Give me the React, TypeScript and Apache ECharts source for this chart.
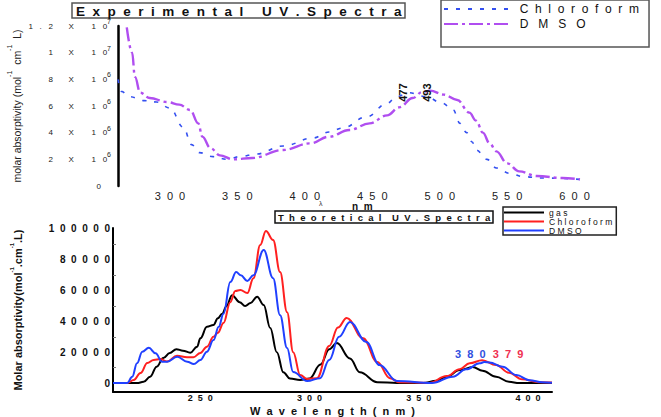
import React, { useEffect, useRef } from "react";
import * as echarts from "echarts";

// ---------- Experimental UV spectra (top) ----------
// wavelengths (nm) and molar absorptivity (x 10^6)
const expChloroformWl = [261.5, 264, 270, 281, 290, 300, 310, 316, 322, 332, 342, 352, 364, 384, 406, 418, 428, 446, 461, 468, 477, 490, 502, 510, 515, 520, 524, 527, 535, 542, 552, 562, 576, 604];
const expChloroformAbs = [8.0, 7.1, 6.7, 6.4, 6.3, 5.85, 4.4, 3.1, 2.5, 2.2, 2.0, 2.2, 2.4, 3.0, 3.6, 4.05, 4.35, 5.2, 6.2, 6.7, 7.0, 6.7, 6.2, 5.7, 4.7, 4.0, 3.3, 2.7, 2.0, 1.35, 0.95, 0.7, 0.6, 0.5];
const expDmsoWl = [268, 272, 274, 278, 285, 298, 307, 315, 321, 324, 330, 337, 347, 361, 384, 404, 418, 433, 448, 461, 470, 480, 487, 493, 503, 513, 522, 527, 532, 537, 542, 550, 559, 572, 591, 604];
const expDmsoAbs = [11.9, 10.0, 8.2, 7.0, 6.6, 6.3, 6.1, 5.7, 4.7, 3.7, 2.85, 2.3, 2.0, 2.1, 2.7, 3.2, 3.7, 4.2, 4.7, 5.3, 5.9, 6.6, 7.05, 7.15, 6.85, 6.45, 5.5, 4.9, 4.0, 3.2, 2.6, 1.7, 1.1, 0.75, 0.6, 0.5];
const expXTicks = [300, 350, 400, 450, 500, 550, 600];
const expPeakChloroform = 477;
const expPeakDmso = 493;

// ---------- Theoretical UV spectra (bottom) ----------
const gasWl = [210, 221, 224, 227, 230, 233, 236, 239, 242, 245.4, 248.5, 250, 253, 256, 258, 260, 262, 264.5, 268, 270.5, 273, 276, 279, 282, 285, 288, 291, 295.7, 300, 305, 309, 312.5, 318.5, 323, 331, 340, 352, 358, 362.8, 368.7, 374.7, 379.2, 385.4, 391.3, 396, 411];
const gasAbs = [0, 0, 800, 4100, 10600, 16200, 19500, 22000, 21000, 19700, 23600, 29000, 36500, 37600, 42000, 45000, 50000, 57000, 52500, 50000, 52000, 56000, 50600, 35700, 20000, 7000, 3000, 2000, 3000, 12000, 22000, 26000, 16000, 7000, 600, 0, 0, 1500, 4100, 8400, 10400, 8000, 4100, 850, 0, 0];
const chlWl = [210, 216.5, 219.5, 222.6, 225.7, 228.6, 231.7, 234.7, 239.3, 243.9, 246.8, 250, 253, 256, 258, 260.6, 263.7, 266, 268.3, 271.5, 274.3, 277.4, 280, 283.3, 286.5, 289.7, 292.5, 295.7, 298.9, 303.4, 309, 313, 317, 324.5, 331, 336.8, 341, 354.7, 362.8, 368.7, 373.3, 379, 385.4, 391.3, 397.3, 405, 411];
const chlAbs = [0, 0, 2000, 6500, 13000, 15000, 15600, 14000, 17700, 16700, 16700, 19500, 23600, 30000, 32600, 39000, 52500, 59700, 60400, 58400, 68000, 89500, 98600, 92800, 72000, 46000, 20000, 5200, 2600, 3200, 24000, 36000, 42200, 29000, 13600, 3200, 600, 0, 4500, 9000, 12800, 14800, 11700, 6700, 2400, 600, 300];
const dmsoWl = [210, 216.5, 218.8, 221, 223.4, 226.4, 229.5, 232.5, 234.8, 239.4, 244, 247, 250, 253, 256, 258.4, 260.6, 263.7, 266.4, 268.5, 271.5, 274.3, 279, 283.3, 286.5, 289.7, 292.5, 298.9, 304.8, 309, 313.5, 318.5, 326, 332, 340, 356, 365.6, 371.7, 377.9, 380, 382.4, 388.4, 394.7, 400.7, 406.6, 411];
const dmsoAbs = [0, 0, 4100, 12800, 20300, 22900, 19300, 13800, 13800, 17000, 13800, 12300, 14900, 20300, 27900, 36500, 45000, 65500, 72000, 70000, 66200, 70000, 86300, 68000, 44000, 22700, 7100, 1300, 3200, 15000, 30000, 39600, 26600, 11700, 1300, 0, 4100, 8900, 12800, 13600, 13400, 10600, 5200, 1900, 500, 200];
const thXTicks = [250, 300, 350, 400];
const thYTicks = [0, 20000, 40000, 60000, 80000, 100000];
const thYMinorTicks = [10000, 30000, 50000, 70000, 90000];
const thPeakDmso = 380;
const thPeakChl = 379;

const FONT = "'Liberation Sans', Arial, sans-serif";
const spaced = (s: string, sep = " ") => s.split("").join(sep);
const pairs = (xs: number[], ys: number[], k = 1) => xs.map((x, i) => [x, ys[i] * k]);
const valAt = (xs: number[], ys: number[], x: number) => ys[xs.indexOf(x)];

const legendNames: Record<string, string> = {
  "Chloroform (exp)": spaced("Chloroform", "  "),
  "DMSO (exp)": spaced("DMSO", "   "),
  gas: spaced("gas"),
  "Chloroform (calc)": spaced("Chloroform"),
  "DMSO (calc)": spaced("DMSO"),
};

export default function App() {
  const ref = useRef<HTMLDivElement>(null);
  useEffect(() => {
    const chart = echarts.init(ref.current!, null, { renderer: "svg" });
    const option: any = {
      animation: false,
      textStyle: { fontFamily: FONT },
      title: [
        {
          text: spaced("Experimental", "  ") + "     " + spaced("UV.Spectra", "  "),
          left: 72,
          top: 3,
          padding: [1, 4, 0, 4],
          borderColor: "#555",
          borderWidth: 1.5,
          backgroundColor: "#fff",
          textStyle: { fontSize: 13.5, fontWeight: "bold", color: "#111", lineHeight: 14, fontFamily: FONT },
        },
        {
          text: spaced("Theoretical", "  ") + "    " + spaced("UV.Spectra", "  "),
          left: 275,
          top: 211,
          padding: [0, 3, 0, 3],
          borderColor: "#111",
          borderWidth: 1.5,
          backgroundColor: "#fff",
          textStyle: { fontSize: 9.5, fontWeight: "bold", color: "#111", lineHeight: 12, fontFamily: FONT },
        },
      ],
      legend: [
        {
          data: ["Chloroform (exp)", "DMSO (exp)"],
          orient: "vertical",
          left: 441,
          top: 0,
          padding: [2, 10, 16, 2],
          itemGap: 1,
          itemWidth: 64,
          itemHeight: 10,
          borderColor: "#555",
          borderWidth: 1.5,
          selectedMode: false,
          itemStyle: { opacity: 0 },
          formatter: (n: string) => "  " + legendNames[n],
          textStyle: { fontSize: 12, lineHeight: 14, color: "#111", fontFamily: FONT },
        },
        {
          data: ["gas", "Chloroform (calc)", "DMSO (calc)"],
          orient: "vertical",
          left: 503,
          top: 207,
          padding: [1, 4, 0, 0],
          itemGap: 0,
          itemWidth: 40,
          itemHeight: 8,
          borderColor: "#222",
          borderWidth: 1.5,
          selectedMode: false,
          itemStyle: { opacity: 0 },
          formatter: (n: string) => legendNames[n],
          textStyle: { fontSize: 8.5, lineHeight: 9, color: "#111", fontFamily: FONT },
        },
      ],
      graphic: [
        { type: "text", z: 0, left: 319, top: 200, style: { text: "λ", fontSize: 7, fill: "#333", fontFamily: FONT } },
        { type: "text", z: 0, left: 352, top: 201, style: { text: "n  m", fontSize: 10, fontWeight: "bold", fill: "#111", fontFamily: FONT } },
      ],
      grid: [
        { left: 118, top: 26, width: 462, height: 160, outerBoundsMode: "none", containLabel: false },
        { left: 113, top: 228, width: 439, height: 164, outerBoundsMode: "none", containLabel: false },
      ],
      xAxis: [
        {
          type: "value",
          gridIndex: 0,
          min: 261.5,
          max: 604,
          axisLine: { show: false },
          axisTick: { show: false },
          splitLine: { show: false },
          axisLabel: {
            customValues: expXTicks,
            margin: 4,
            fontSize: 11,
            color: "#222",
            fontFamily: FONT,
            formatter: (v: number) => spaced(String(v), "  "),
          },
        },
        {
          type: "value",
          gridIndex: 1,
          min: 210,
          max: 411,
          name: spaced("Wavelength", "  ") + "  " + spaced("(nm)", "  "),
          nameLocation: "middle",
          nameGap: 13,
          nameTextStyle: { fontSize: 11, fontWeight: "bold", color: "#111", fontFamily: FONT },
          axisLine: { show: true, onZero: false, lineStyle: { color: "#000", width: 2 } },
          axisTick: { show: false },
          splitLine: { show: false },
          axisLabel: {
            customValues: thXTicks,
            margin: 1,
            fontSize: 9,
            fontWeight: "bold",
            color: "#111",
            fontFamily: FONT,
            formatter: (v: number) => spaced(String(v), "  "),
          },
        },
      ],
      yAxis: [
        {
          type: "value",
          gridIndex: 0,
          min: 0,
          max: 12e6,
          interval: 2e6,
          name: "molar absorptivity (mol{s|-1}  cm{s|-1}  L)",
          nameLocation: "middle",
          nameRotate: 90,
          nameGap: 90,
          nameMoveOverlap: false,
          nameTextStyle: {
            fontSize: 10.5,
            color: "#222",
            lineHeight: 22,
            fontFamily: FONT,
            rich: { s: { fontSize: 7, verticalAlign: "top", lineHeight: 8, color: "#222" } },
          },
          axisLine: { show: true, onZero: false, lineStyle: { color: "#000", width: 2.5 } },
          axisTick: { show: false },
          splitLine: { show: false },
          axisLabel: {
            margin: 7,
            formatter: (v: number) => {
              if (v === 0) return "{z|0}";
              const exp = v >= 1e7 ? 7 : 6;
              const mant = +(v / Math.pow(10, exp)).toFixed(1);
              return `{m|${spaced(String(mant), "   ")}       X        1   0}{s|${exp}}`;
            },
            rich: {
              m: { fontSize: 8, color: "#222", lineHeight: 16, fontFamily: FONT },
              s: { fontSize: 7, color: "#222", lineHeight: 8, verticalAlign: "top", fontFamily: FONT },
              z: { fontSize: 8, color: "#222", padding: [0, 10, 0, 0], fontFamily: FONT },
            },
          },
        },
        {
          type: "value",
          gridIndex: 1,
          min: -5800,
          max: 100600,
          name: "Molar absorptivity(mol{s|-1}.cm{s|-1}.L)",
          nameLocation: "middle",
          nameRotate: 90,
          nameGap: 86,
          nameTextStyle: {
            fontSize: 11,
            fontWeight: "bold",
            color: "#111",
            lineHeight: 18,
            fontFamily: FONT,
            rich: { s: { fontSize: 6, verticalAlign: "top", lineHeight: 7, color: "#111", fontWeight: "bold" } },
          },
          axisLine: { show: true, onZero: false, lineStyle: { color: "#000", width: 2 } },
          axisTick: {
            show: true,
            inside: true,
            length: 3,
            customValues: thYMinorTicks,
            lineStyle: { color: "#777", width: 1 },
          },
          splitLine: { show: false },
          axisLabel: {
            customValues: thYTicks,
            margin: 3,
            fontSize: 10,
            fontWeight: "bold",
            color: "#111",
            fontFamily: FONT,
            formatter: (v: number) => spaced(String(v), "  "),
          },
        },
      ],
      series: [
        {
          name: "Chloroform (exp)",
          type: "line",
          xAxisIndex: 0,
          yAxisIndex: 0,
          data: pairs(expChloroformWl, expChloroformAbs, 1e6),
          showSymbol: false,
          symbol: "none",
          smooth: 0.4,
          smoothMonotone: "x",
          lineStyle: { color: "#3450f0", width: 1.6, type: [4, 8] },
          itemStyle: { color: "#3450f0" },
          markPoint: {
            symbol: "circle",
            symbolSize: 0,
            data: [{ coord: [expPeakChloroform, valAt(expChloroformWl, expChloroformAbs, expPeakChloroform) * 1e6], value: expPeakChloroform }],
            label: { show: true, position: "inside", rotate: 90, offset: [0, -6], formatter: String(expPeakChloroform), fontSize: 11, fontWeight: "bold", color: "#111", fontFamily: FONT },
          },
        },
        {
          name: "DMSO (exp)",
          type: "line",
          xAxisIndex: 0,
          yAxisIndex: 0,
          data: pairs(expDmsoWl, expDmsoAbs, 1e6),
          showSymbol: false,
          symbol: "none",
          smooth: 0.4,
          smoothMonotone: "x",
          lineStyle: { color: "#b04ef0", width: 2.4, type: [14, 4, 3, 4] },
          itemStyle: { color: "#b04ef0" },
          markPoint: {
            symbol: "circle",
            symbolSize: 0,
            data: [{ coord: [expPeakDmso, valAt(expDmsoWl, expDmsoAbs, expPeakDmso) * 1e6], value: expPeakDmso }],
            label: { show: true, position: "inside", rotate: 90, offset: [-2, -3], formatter: String(expPeakDmso), fontSize: 11, fontWeight: "bold", color: "#111", fontFamily: FONT },
          },
        },
        {
          name: "gas",
          type: "line",
          xAxisIndex: 1,
          yAxisIndex: 1,
          data: pairs(gasWl, gasAbs),
          showSymbol: false,
          symbol: "none",
          smooth: 0.4,
          smoothMonotone: "x",
          lineStyle: { color: "#000", width: 2 },
          itemStyle: { color: "#000" },
        },
        {
          name: "Chloroform (calc)",
          type: "line",
          xAxisIndex: 1,
          yAxisIndex: 1,
          data: pairs(chlWl, chlAbs),
          showSymbol: false,
          symbol: "none",
          smooth: 0.4,
          smoothMonotone: "x",
          lineStyle: { color: "#ff2020", width: 2 },
          itemStyle: { color: "#ff2020" },
          markPoint: {
            symbol: "circle",
            symbolSize: 0,
            data: [{ coord: [thPeakChl, valAt(chlWl, chlAbs, thPeakChl)], value: thPeakChl }],
            label: { show: true, position: "inside", offset: [26, -6], formatter: spaced(String(thPeakChl), "  "), fontSize: 11, fontWeight: "bold", color: "#f03050", fontFamily: FONT },
          },
        },
        {
          name: "DMSO (calc)",
          type: "line",
          xAxisIndex: 1,
          yAxisIndex: 1,
          data: pairs(dmsoWl, dmsoAbs),
          showSymbol: false,
          symbol: "none",
          smooth: 0.4,
          smoothMonotone: "x",
          lineStyle: { color: "#2040ff", width: 2 },
          itemStyle: { color: "#2040ff" },
          markPoint: {
            symbol: "circle",
            symbolSize: 0,
            data: [{ coord: [thPeakDmso, valAt(dmsoWl, dmsoAbs, thPeakDmso)], value: thPeakDmso }],
            label: { show: true, position: "inside", offset: [-14, -8], formatter: spaced(String(thPeakDmso), "  "), fontSize: 11, fontWeight: "bold", color: "#3050e0", fontFamily: FONT },
          },
        },
      ],
    };
    chart.setOption(option);
    return () => chart.dispose();
  }, []);
  return (
    <div
      ref={ref}
      style={{ position: "fixed", left: 0, top: 0, width: 661, height: 417, background: "#fff" }}
    />
  );
}
